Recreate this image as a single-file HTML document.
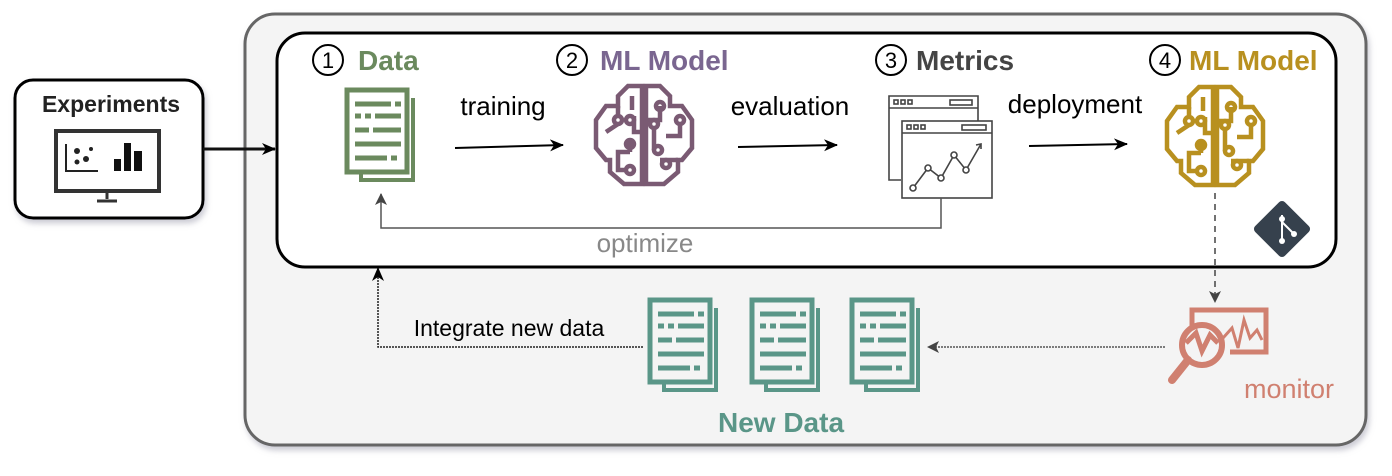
<!DOCTYPE html>
<html><head><meta charset="utf-8"><style>
body{margin:0;background:#fff;}
svg{display:block;font-family:"Liberation Sans",sans-serif;}
</style></head><body>
<svg width="1392" height="476" viewBox="0 0 1392 476" xmlns="http://www.w3.org/2000/svg">
<defs>
<marker id="ab" markerWidth="14" markerHeight="12" refX="13" refY="6" orient="auto" markerUnits="userSpaceOnUse"><path d="M0,0 L14,6 L0,12 L4,6 Z" fill="#000"/></marker>
<marker id="ag" markerWidth="12" markerHeight="12" refX="11" refY="6" orient="auto" markerUnits="userSpaceOnUse"><path d="M0,0 L12,6 L0,12 L3,6 Z" fill="#444"/></marker>
<filter id="sh" x="-5%" y="-5%" width="110%" height="115%"><feDropShadow dx="2" dy="4" stdDeviation="3" flood-color="#99a" flood-opacity="0.5"/></filter>
<g id="doc">
<rect x="0" y="0" width="60" height="82" fill="none" stroke-width="5"/>
<path d="M66,8 V90 H14 V84" fill="none" stroke-width="4"/>
<path d="M8,14 h36 M48,14 h6 M8,26 h6 M18,26 h6 M28,26 h26 M8,40 h14 M26,40 h28 M8,54 h46 M8,68 h32 M44,68 h6" stroke-width="5" fill="none"/>
</g>
<g id="brain" fill="none" stroke-width="4.5">
<path d="M46,0 L32,0 L22,10 L22,20 L10,20 L0,34 L0,62 L10,74 L14,74 L14,86 L28,98 L46,98 Z"/>
<path d="M50,0 L64,0 L74,10 L74,20 L86,20 L96,34 L96,62 L86,74 L82,74 L82,86 L68,98 L50,98 Z"/>
<path d="M22,20 V30 M22,38 L10,46 M34,52 V66 M34,66 h-12 V84 h8 M46,46 h-8 V30 M36,10 V24 M50,34 h14 V20 M58,42 v22 M70,50 h14 V38 M64,74 h18 M50,62 h-2"/>
<circle cx="22" cy="34" r="4"/><circle cx="34" cy="34" r="4"/><circle cx="34" cy="58" r="4"/><circle cx="34" cy="84" r="4"/><circle cx="64" cy="20" r="4"/><circle cx="58" cy="38" r="4"/><circle cx="62" cy="64" r="4"/><circle cx="84" cy="34" r="4"/><circle cx="70" cy="78" r="4"/>
</g>
</defs>

<rect x="245" y="14" width="1121" height="431" rx="30" fill="#f4f4f4" stroke="#666" stroke-width="3" filter="url(#sh)"/>
<rect x="277" y="33" width="1059" height="234" rx="28" fill="#fff" stroke="#000" stroke-width="3"/>
<rect x="15" y="80" width="188" height="138" rx="18" fill="#fff" stroke="#000" stroke-width="3" filter="url(#sh)"/>
<text x="111" y="112" text-anchor="middle" font-size="23" font-weight="bold" fill="#222">Experiments</text>
<rect x="56" y="131" width="103" height="60" fill="none" stroke="#333" stroke-width="4"/>
<path d="M107,191 v8 M97,201 h20" stroke="#333" stroke-width="3"/>
<path d="M66,144 V171 H98" stroke="#222" stroke-width="2" fill="none"/>
<circle cx="77" cy="151" r="3" fill="#222"/><circle cx="86" cy="159" r="3" fill="#222"/><circle cx="77" cy="162" r="2.5" fill="#222"/><circle cx="91" cy="149" r="2" fill="#222"/>
<rect x="114" y="159" width="7" height="12" fill="#111"/><rect x="124" y="143" width="7" height="28" fill="#111"/><rect x="134" y="151" width="8" height="20" fill="#111"/>
<line x1="203" y1="149" x2="275" y2="149" stroke="#111" stroke-width="3" marker-end="url(#ab)"/>

<g font-size="28" font-weight="bold">
<circle cx="328" cy="60" r="15" fill="none" stroke="#000" stroke-width="2"/><text x="328" y="68" text-anchor="middle" font-size="22" font-weight="normal">1</text>
<text x="358" y="70" fill="#6b8a5e">Data</text>
<circle cx="572" cy="60" r="15" fill="none" stroke="#000" stroke-width="2"/><text x="572" y="68" text-anchor="middle" font-size="22" font-weight="normal">2</text>
<text x="600" y="70" fill="#7a6690">ML Model</text>
<circle cx="891" cy="60" r="15" fill="none" stroke="#000" stroke-width="2"/><text x="891" y="68" text-anchor="middle" font-size="22" font-weight="normal">3</text>
<text x="916" y="70" fill="#444">Metrics</text>
<circle cx="1165" cy="60" r="15" fill="none" stroke="#000" stroke-width="2"/><text x="1165" y="68" text-anchor="middle" font-size="22" font-weight="normal">4</text>
<text x="1189" y="70" fill="#b8901f">ML Model</text>
</g>

<g transform="translate(347,90)" stroke="#6b8a5e"><use href="#doc"/></g>
<text x="503" y="115" text-anchor="middle" font-size="26">training</text>
<line x1="455" y1="148" x2="563" y2="145" stroke="#000" stroke-width="2" marker-end="url(#ab)"/>
<g transform="translate(596,86)" stroke="#7a5a73"><use href="#brain"/></g>
<text x="790" y="115" text-anchor="middle" font-size="26">evaluation</text>
<line x1="738" y1="147" x2="837" y2="145" stroke="#000" stroke-width="2" marker-end="url(#ab)"/>
<g fill="none" stroke="#444" stroke-width="1.6">
<path d="M901,180 H889 V96 H978 V122"/>
<path d="M889,108 H978"/>
<rect x="894" y="100" width="4" height="4"/><rect x="901" y="100" width="4" height="4"/><rect x="908" y="100" width="4" height="4"/><rect x="950" y="100" width="22" height="5"/>
<rect x="902" y="121" width="90" height="77" fill="#fff"/>
<path d="M902,133 H992"/>
<rect x="907" y="125" width="4" height="4"/><rect x="914" y="125" width="4" height="4"/><rect x="921" y="125" width="4" height="4"/><rect x="962" y="125" width="24" height="5"/>
<path d="M913,188 L928,168 L941,178 L954,155 L966,170 L981,144"/>
<path d="M976,145 L981,144 L981,149"/>
<circle cx="913" cy="188" r="3" fill="#fff"/><circle cx="928" cy="168" r="3" fill="#fff"/><circle cx="941" cy="178" r="3" fill="#fff"/><circle cx="954" cy="155" r="3" fill="#fff"/><circle cx="966" cy="170" r="3" fill="#fff"/>
</g>
<text x="1075" y="113" text-anchor="middle" font-size="26">deployment</text>
<line x1="1029" y1="146" x2="1127" y2="144" stroke="#000" stroke-width="2" marker-end="url(#ab)"/>
<g transform="translate(1167,87)" stroke="#b8901f"><use href="#brain"/></g>
<g transform="translate(1282,229) rotate(45)"><rect x="-21" y="-21" width="42" height="42" rx="4" fill="#36414d"/></g>
<path d="M1282,215 V241 M1282,222 L1294,234" stroke="#fff" stroke-width="2" fill="none"/>
<circle cx="1282" cy="219" r="3" fill="#fff"/><circle cx="1282" cy="241" r="3" fill="#fff"/><circle cx="1294" cy="234" r="3" fill="#fff"/>

<path d="M941,198 V228 H381 V194" fill="none" stroke="#555" stroke-width="1.5" marker-end="url(#ag)"/>
<text x="645" y="252" text-anchor="middle" font-size="26" fill="#888">optimize</text>

<line x1="1215" y1="193" x2="1215" y2="302" stroke="#444" stroke-width="1.5" stroke-dasharray="6,5" marker-end="url(#ag)"/>
<g stroke="#d08070" fill="none">
<path d="M1192,328 V310 H1266 V352 H1230" stroke-width="5"/>
<path d="M1223,338 L1232,328 L1238,348 L1244,320 L1250,338 L1257,330 L1262,340" stroke-width="3"/>
<circle cx="1202" cy="345" r="20" stroke-width="6"/>
<path d="M1186,343 L1196,333 L1202,351 L1210,335 L1218,343" stroke-width="5"/>
<path d="M1188,360 L1172,380" stroke-width="8" stroke-linecap="round"/>
</g>
<text x="1289" y="398" text-anchor="middle" font-size="27" fill="#d08070">monitor</text>

<line x1="1165" y1="347" x2="928" y2="347" stroke="#555" stroke-width="1.5" stroke-dasharray="2,1" marker-end="url(#ag)"/>

<g transform="translate(650,300)" stroke="#5a9688"><use href="#doc"/></g>
<g transform="translate(752,300)" stroke="#5a9688"><use href="#doc"/></g>
<g transform="translate(852,300)" stroke="#5a9688"><use href="#doc"/></g>
<text x="781" y="432" text-anchor="middle" font-size="28" font-weight="bold" fill="#5a9688">New Data</text>

<path d="M643,347 H378 V268" fill="none" stroke="#222" stroke-width="1.5" stroke-dasharray="2,1" marker-end="url(#ab)"/>
<text x="509" y="336" text-anchor="middle" font-size="23">Integrate new data</text>
</svg>
</body></html>
